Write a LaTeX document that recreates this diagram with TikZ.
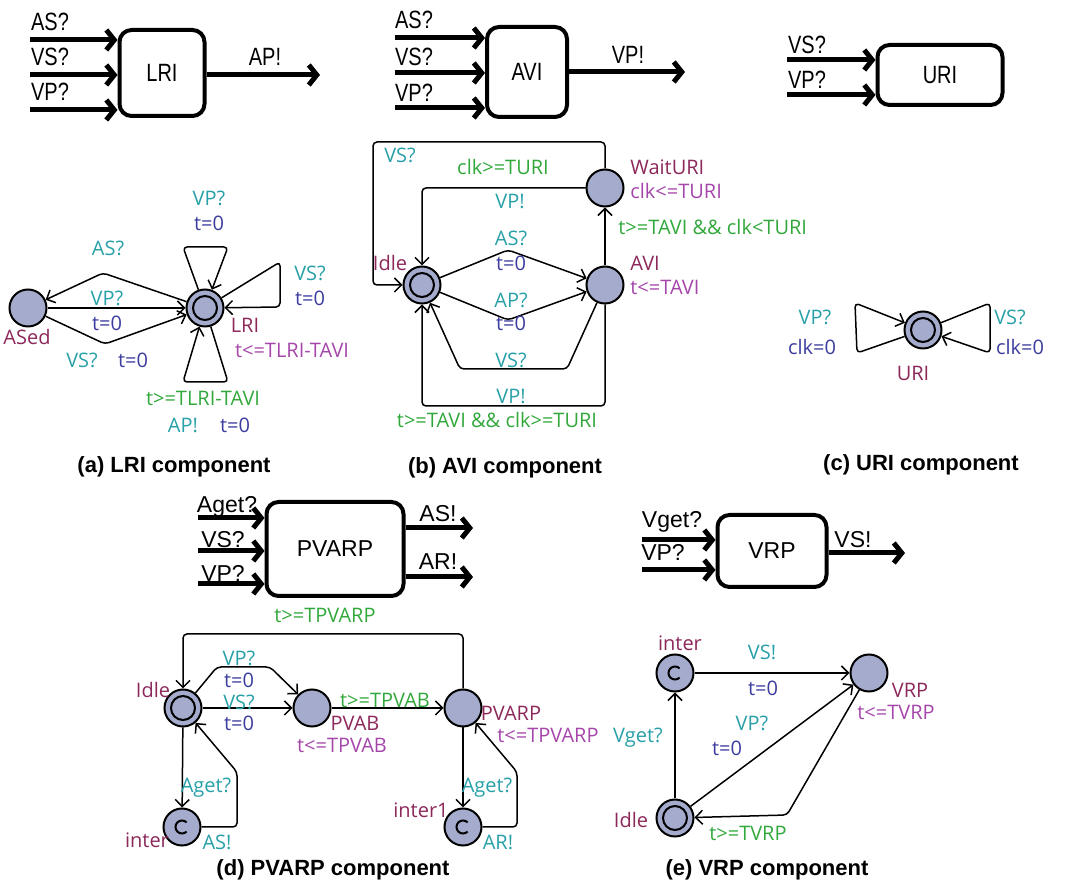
\documentclass[tikz,border=0pt]{standalone}
\usepackage{fontspec}
\usepackage{tikz}
\usetikzlibrary{arrows.meta}
\setmainfont{Liberation Sans}
\newfontfamily\uppfont{Open Sans}
\newfontfamily\blkfont[FakeStretch=0.8]{Liberation Sans}

\definecolor{locfill}{RGB}{164,171,204}
\definecolor{locname}{RGB}{140,40,90}
\definecolor{invcol}{RGB}{165,70,170}
\definecolor{grdcol}{RGB}{50,168,60}
\definecolor{syncol}{RGB}{40,160,168}
\definecolor{updcol}{RGB}{60,60,160}

\tikzset{
  loc/.style={circle, draw, line width=1pt, fill=locfill, minimum size=18.5pt, inner sep=0pt},
  initloc/.style={loc, path picture={\draw[line width=1pt] (path picture bounding box.center) circle[radius=12];}},
  comloc/.style={loc, path picture={\draw[line width=1pt] (path picture bounding box.center) ++(45:6.5) arc[start angle=45, end angle=315, radius=6.5];}},
  trans/.style={line width=0.75pt, rounded corners=2pt, -{Straight Barb[length=3.5pt,width=7pt]}},
  upp/.style={inner sep=0pt, font=\uppfont\fontsize{10}{12}\selectfont},
  lname/.style={upp, text=locname},
  inv/.style={upp, text=invcol},
  grd/.style={upp, text=grdcol},
  syn/.style={upp, text=syncol},
  upd/.style={upp, text=updcol},
  blkbox/.style={draw, line width=2pt, rounded corners=6pt},
  blktxt/.style={inner sep=0pt, font=\blkfont\fontsize{12.5}{14}\selectfont},
  blktxtw/.style={inner sep=0pt, font=\fontsize{11.5}{13}\selectfont},
  bigarr/.style={line width=2.5pt, -{Straight Barb[length=4pt,width=10pt]}},
  capt/.style={inner sep=0pt, font=\bfseries\fontsize{11}{13}\selectfont}
}

\begin{document}
\begin{tikzpicture}[x=0.5pt, y=-0.5pt]
\useasboundingbox (0,0) rectangle (1073,892);

% LRI block
\node[blkbox, blktxt, minimum width=42.5pt, minimum height=43pt] (lribox) at (162,73) {LRI};
\coordinate (lriin1) at (30,40);
\coordinate (lriin2) at (30,75);
\coordinate (lriin3) at (30,110);
\coordinate (lriout) at (320,75);
\draw[bigarr] (lriin1) -- (lriin1 -| lribox.west);
\draw[bigarr] (lriin2) -- (lriin2 -| lribox.west);
\draw[bigarr] (lriin3) -- (lriin3 -| lribox.west);
\draw[bigarr] (lribox.east |- lriout) -- (lriout);
\node[blktxt] (lriAS) at (50,22) {AS?};
\node[blktxt] (lriVS) at (50,57) {VS?};
\node[blktxt] (lriVP) at (50,92) {VP?};
\node[blktxt] (lriAP) at (265,57) {AP!};

% AVI block
\node[blkbox, blktxt, minimum width=40pt, minimum height=45pt] (avibox) at (527,72) {AVI};
\coordinate (aviin1) at (395,38);
\coordinate (aviin2) at (395,73);
\coordinate (aviin3) at (395,108);
\coordinate (aviout) at (685,72);
\draw[bigarr] (aviin1) -- (aviin1 -| avibox.west);
\draw[bigarr] (aviin2) -- (aviin2 -| avibox.west);
\draw[bigarr] (aviin3) -- (aviin3 -| avibox.west);
\draw[bigarr] (avibox.east |- aviout) -- (aviout);
\node[blktxt] (aviAS) at (414,20) {AS?};
\node[blktxt] (aviVS) at (414,57) {VS?};
\node[blktxt] (aviVP) at (414,93) {VP?};
\node[blktxt] (aviVPo) at (628,55) {VP!};

% URI block
\node[blkbox, blktxt, minimum width=62.5pt, minimum height=30pt] (uribox) at (940,75) {URI};
\coordinate (uriin1) at (787,60);
\coordinate (uriin2) at (787,95);
\draw[bigarr] (uriin1) -- (uriin1 -| uribox.west);
\draw[bigarr] (uriin2) -- (uriin2 -| uribox.west);
\node[blktxt] (uriVS) at (807,45) {VS?};
\node[blktxt] (uriVP) at (807,80) {VP?};

% LRI automaton
\node[loc] (ased) at (28,308) {};
\node[initloc] (lri) at (205,308) {};
\node[lname] (asedn) at (27,337) {ASed};
\node[lname] (lrin) at (245,325) {LRI};
\node[inv] (lriinv) at (292,350) {t<=TLRI-TAVI};
\draw[trans] (ased) -- (lri);
\draw[trans] (lri) -- (103,273) -- (ased);
\draw[trans] (ased) -- (105,344) -- (lri);
\draw[trans] (lri) -- (183,247) -- (228,247) -- (lri);
\draw[trans] (lri) -- (280,262) -- (280,307) -- (lri);
\draw[trans] (lri) -- (228,382) -- (183,382) -- (lri);
\node[syn] (la1) at (107,298) {VP?};
\node[upd] (la2) at (107,323) {t=0};
\node[syn] (la3) at (108,248) {AS?};
\node[syn] (la4) at (82,360) {VS?};
\node[upd] (la5) at (133,360) {t=0};
\node[syn] (la6) at (209,198) {VP?};
\node[upd] (la7) at (209,223) {t=0};
\node[syn] (la8) at (310,273) {VS?};
\node[upd] (la9) at (310,298) {t=0};
\node[grd] (la10) at (203,398) {t>=TLRI-TAVI};
\node[syn] (la11) at (183,425) {AP!};
\node[upd] (la12) at (235,425) {t=0};

% AVI automaton
\node[initloc] (idle) at (422,285) {};
\node[loc] (avi) at (605,285) {};
\node[loc] (waituri) at (605,188) {};
\node[lname] (idlen) at (390,263) {Idle};
\node[lname, anchor=west] (avin) at (630,263) {AVI};
\node[inv, anchor=west] (aviinv) at (630,287) {t<=TAVI};
\node[lname, anchor=west] (waitn) at (630,167) {WaitURI};
\node[inv, anchor=west] (waitinv) at (630,191) {clk<=TURI};
\draw[trans] (idle) -- (508,250) -- (avi);
\draw[trans] (idle) -- (508,320) -- (avi);
\draw[trans] (avi) -- (567,369) -- (460,369) -- (idle);
\draw[trans] (avi) -- (605,406) -- (422,406) -- (idle);
\draw[trans] (avi) -- (waituri);
\draw[trans] (waituri) -- (422,188) -- (idle);
\draw[trans] (waituri) -- (605,142) -- (373,142) -- (373,285) -- (idle);
\node[syn] (lb1) at (511,238) {AS?};
\node[upd] (lb2) at (511,263) {t=0};
\node[syn] (lb3) at (511,300) {AP?};
\node[upd] (lb4) at (511,323) {t=0};
\node[syn] (lb5) at (511,360) {VS?};
\node[syn] (lb6) at (511,397) {VP!};
\node[grd] (lb7) at (497,420) {t>=TAVI \&\& clk>=TURI};
\node[grd, anchor=west] (lb8) at (618,227) {t>=TAVI \&\& clk<TURI};
\node[grd] (lb9) at (503,167) {clk>=TURI};
\node[syn] (lb10) at (510,202) {VP!};
\node[syn] (lb11) at (400,155) {VS?};

% URI automaton
\node[initloc] (uri) at (923,330) {};
\node[lname] (urin) at (913,373) {URI};
\draw[trans] (uri) -- (857,353) -- (855,303) -- (uri);
\draw[trans] (uri) -- (990,303) -- (990,353) -- (uri);
\node[syn] (lc1) at (815,317) {VP?};
\node[upd] (lc2) at (812,347) {clk=0};
\node[syn] (lc3) at (1010,317) {VS?};
\node[upd] (lc4) at (1020,347) {clk=0};

% captions, first row
\node[capt] (capa) at (174,467) {(a) LRI component};
\node[capt] (capb) at (505,468) {(b) AVI component};
\node[capt] (capc) at (921,465) {(c) URI component};

% PVARP block
\node[blkbox, blktxtw, minimum width=68.5pt, minimum height=47pt] (pvarpbox) at (335,549) {PVARP};
\coordinate (pvin1) at (198,518);
\coordinate (pvin2) at (198,551);
\coordinate (pvin3) at (198,584);
\coordinate (pvout1) at (473,528);
\coordinate (pvout2) at (473,577);
\draw[bigarr] (pvin1) -- (pvin1 -| pvarpbox.west);
\draw[bigarr] (pvin2) -- (pvin2 -| pvarpbox.west);
\draw[bigarr] (pvin3) -- (pvin3 -| pvarpbox.west);
\draw[bigarr] (pvarpbox.east |- pvout1) -- (pvout1);
\draw[bigarr] (pvarpbox.east |- pvout2) -- (pvout2);
\node[blktxtw] (pvAget) at (227,507) {Aget?};
\node[blktxtw] (pvVS) at (223,540) {VS?};
\node[blktxtw] (pvVP) at (223,573) {VP?};
\node[blktxtw] (pvAS) at (438,514) {AS!};
\node[blktxtw] (pvAR) at (438,562) {AR!};

% VRP block
\node[blkbox, blktxtw, minimum width=54.5pt, minimum height=36pt] (vrpbox) at (772,551) {VRP};
\coordinate (vrin1) at (642,540);
\coordinate (vrin2) at (642,570);
\coordinate (vrout) at (905,553);
\draw[bigarr] (vrin1) -- (vrin1 -| vrpbox.west);
\draw[bigarr] (vrin2) -- (vrin2 -| vrpbox.west);
\draw[bigarr] (vrpbox.east |- vrout) -- (vrout);
\node[blktxtw] (vrVget) at (672,522) {Vget?};
\node[blktxtw] (vrVP) at (663,552) {VP?};
\node[blktxtw] (vrVS) at (853,540) {VS!};

% PVARP automaton
\node[initloc] (pidle) at (183,708) {};
\node[loc] (pvab) at (312,708) {};
\node[loc] (pvarp) at (463,708) {};
\node[comloc] (pinter) at (182,827) {};
\node[comloc] (pinter1) at (463,827) {};
\node[lname] (pidlen) at (153,690) {Idle};
\node[lname] (pvabn) at (355,723) {PVAB};
\node[inv] (pvabinv) at (342,745) {t<=TPVAB};
\node[lname] (pvarpn) at (511,713) {PVARP};
\node[inv, anchor=west] (pvarpinv) at (497,735) {t<=TPVARP};
\node[lname] (pintern) at (147,840) {inter};
\node[lname] (pinter1n) at (421,810) {inter1};
\draw[trans] (pidle) -- (217,667) -- (270,667) -- (pvab);
\draw[trans] (pidle) -- (pvab);
\draw[trans] (pvab) -- (pvarp);
\draw[trans] (pvarp) -- (463,634) -- (183,634) -- (pidle);
\draw[trans] (pidle) -- (pinter);
\draw[trans] (pinter) -- (237,827) -- (237,772) -- (pidle);
\draw[trans] (pvarp) -- (pinter1);
\draw[trans] (pinter1) -- (517,827) -- (517,772) -- (pvarp);
\node[syn] (ld1) at (239,658) {VP?};
\node[upd] (ld2) at (239,680) {t=0};
\node[syn] (ld3) at (239,702) {VS?};
\node[upd] (ld4) at (239,723) {t=0};
\node[grd] (ld5) at (385,700) {t>=TPVAB};
\node[grd] (ld6) at (325,615) {t>=TPVARP};
\node[syn] (ld7) at (206,788) {Aget?};
\node[syn] (ld8) at (217,842) {AS!};
\node[syn] (ld9) at (487,788) {Aget?};
\node[syn] (ld10) at (498,842) {AR!};

% VRP automaton
\node[comloc] (vinter) at (675,673) {};
\node[loc] (vrp) at (869,673) {};
\node[initloc] (vidle) at (675,818) {};
\node[lname] (vintern) at (680,643) {inter};
\node[lname] (vrpn) at (910,690) {VRP};
\node[inv] (vrpinv) at (896,712) {t<=TVRP};
\node[lname] (vidlen) at (631,820) {Idle};
\draw[trans] (vinter) -- (vrp);
\draw[trans] (vidle) -- (vinter);
\draw[trans] (vidle) -- (vrp);
\draw[trans] (vrp) -- (787,815) -- (vidle);
\node[syn] (le1) at (762,652) {VS!};
\node[upd] (le2) at (763,688) {t=0};
\node[syn] (le3) at (638,738) {Vget?};
\node[syn] (le4) at (752,723) {VP?};
\node[upd] (le5) at (727,748) {t=0};
\node[grd] (le6) at (748,833) {t>=TVRP};

% captions, second row
\node[capt] (capd) at (333,870) {(d) PVARP component};
\node[capt] (cape) at (767,870) {(e) VRP component};

\end{tikzpicture}
\end{document}
